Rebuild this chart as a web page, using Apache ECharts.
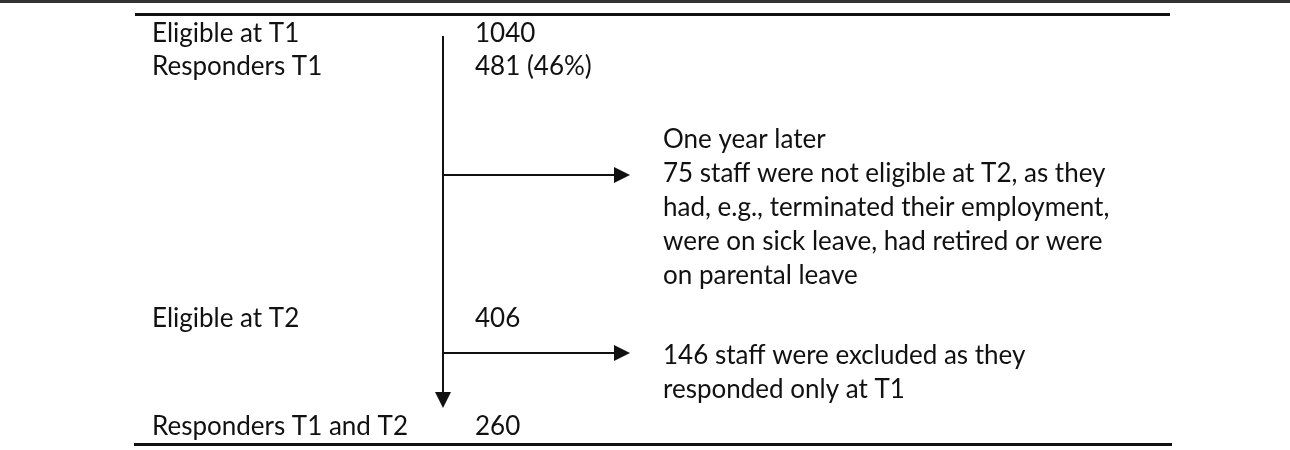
<!DOCTYPE html>
<html>
<head>
<meta charset="utf-8">
<script src="https://cdn.jsdelivr.net/npm/echarts@6/dist/echarts.min.js"></script>
<style>
html,body{margin:0;padding:0;background:#fff;}
#c{width:1290px;height:450px;}
</style>
</head>
<body>
<div id="c"></div>
<script>
// ---- content ----
const stageLabels = ['Eligible at T1', 'Responders T1', 'Eligible at T2', 'Responders T1 and T2'];
const stageCounts = ['1040', '481 (46%)', '406', '260'];
const exclusionNoteT2 = [
  'One year later',
  '75 staff were not eligible at T2, as they',
  'had, e.g., terminated their employment,',
  'were on sick leave, had retired or were',
  'on parental leave'
];
const exclusionNoteT1only = [
  '146 staff were excluded as they',
  'responded only at T1'
];

// ---- layout (pixel coordinate system) ----
const W = 1290, H = 450;
const labelX = 152, countX = 475, noteX = 663, flowX = 443;
const stageBaselines = [42, 75, 327, 435];
const note1Baseline = 148, note2Baseline = 364, noteStep = 34;
const branchY = [175, 353];
const arrowEndX = 622;
const flowTop = 36, flowEnd = 400;
const FONT = 26;
const DESCENT = Math.round(FONT * 0.21);

const texts = [];
stageLabels.forEach((t, i) => texts.push({ value: [labelX, stageBaselines[i]], t }));
stageCounts.forEach((t, i) => texts.push({ value: [countX, stageBaselines[i]], t }));
exclusionNoteT2.forEach((t, i) => texts.push({ value: [noteX, note1Baseline + i * noteStep], t }));
exclusionNoteT1only.forEach((t, i) => texts.push({ value: [noteX, note2Baseline + i * noteStep], t }));

const rules = [
  { coords: [[0, 1], [W, 1]], lineStyle: { width: 3, color: '#333', opacity: 1 } },
  { coords: [[135, 14], [1170, 14]], lineStyle: { width: 3, color: '#111', opacity: 1 } },
  { coords: [[134, 444], [1172, 444]], lineStyle: { width: 3, color: '#111', opacity: 1 } }
];
const arrows = [
  { coords: [[flowX, flowTop], [flowX, flowEnd]] },
  { coords: [[flowX, branchY[0]], [arrowEndX, branchY[0]]] },
  { coords: [[flowX, branchY[1]], [arrowEndX, branchY[1]]] }
];

const chart = echarts.init(document.getElementById('c'), null, { renderer: 'canvas' });
chart.setOption({
  animation: false,
  backgroundColor: '#fff',
  grid: { left: 0, right: 0, top: 0, bottom: 0 },
  xAxis: { type: 'value', min: 0, max: W, show: false },
  yAxis: { type: 'value', min: 0, max: H, inverse: true, show: false },
  series: [
    {
      type: 'lines', coordinateSystem: 'cartesian2d', silent: true,
      symbol: 'none',
      lineStyle: { opacity: 1 },
      data: rules
    },
    {
      type: 'lines', coordinateSystem: 'cartesian2d', silent: true,
      symbol: ['none', 'triangle'], symbolSize: 16,
      itemStyle: { color: '#111', opacity: 1 },
      lineStyle: { width: 2, color: '#111', opacity: 1 },
      data: arrows
    },
    {
      type: 'custom', coordinateSystem: 'cartesian2d', silent: true,
      data: texts.map(d => d.value),
      renderItem: function (params, api) {
        const p = api.coord([api.value(0), api.value(1)]);
        return {
          type: 'text',
          x: p[0], y: p[1] + DESCENT,
          style: {
            text: texts[params.dataIndex].t,
            fill: '#111',
            font: FONT + 'px Lato',
            textAlign: 'left',
            textVerticalAlign: 'bottom'
          }
        };
      }
    }
  ]
});
</script>
</body>
</html>
